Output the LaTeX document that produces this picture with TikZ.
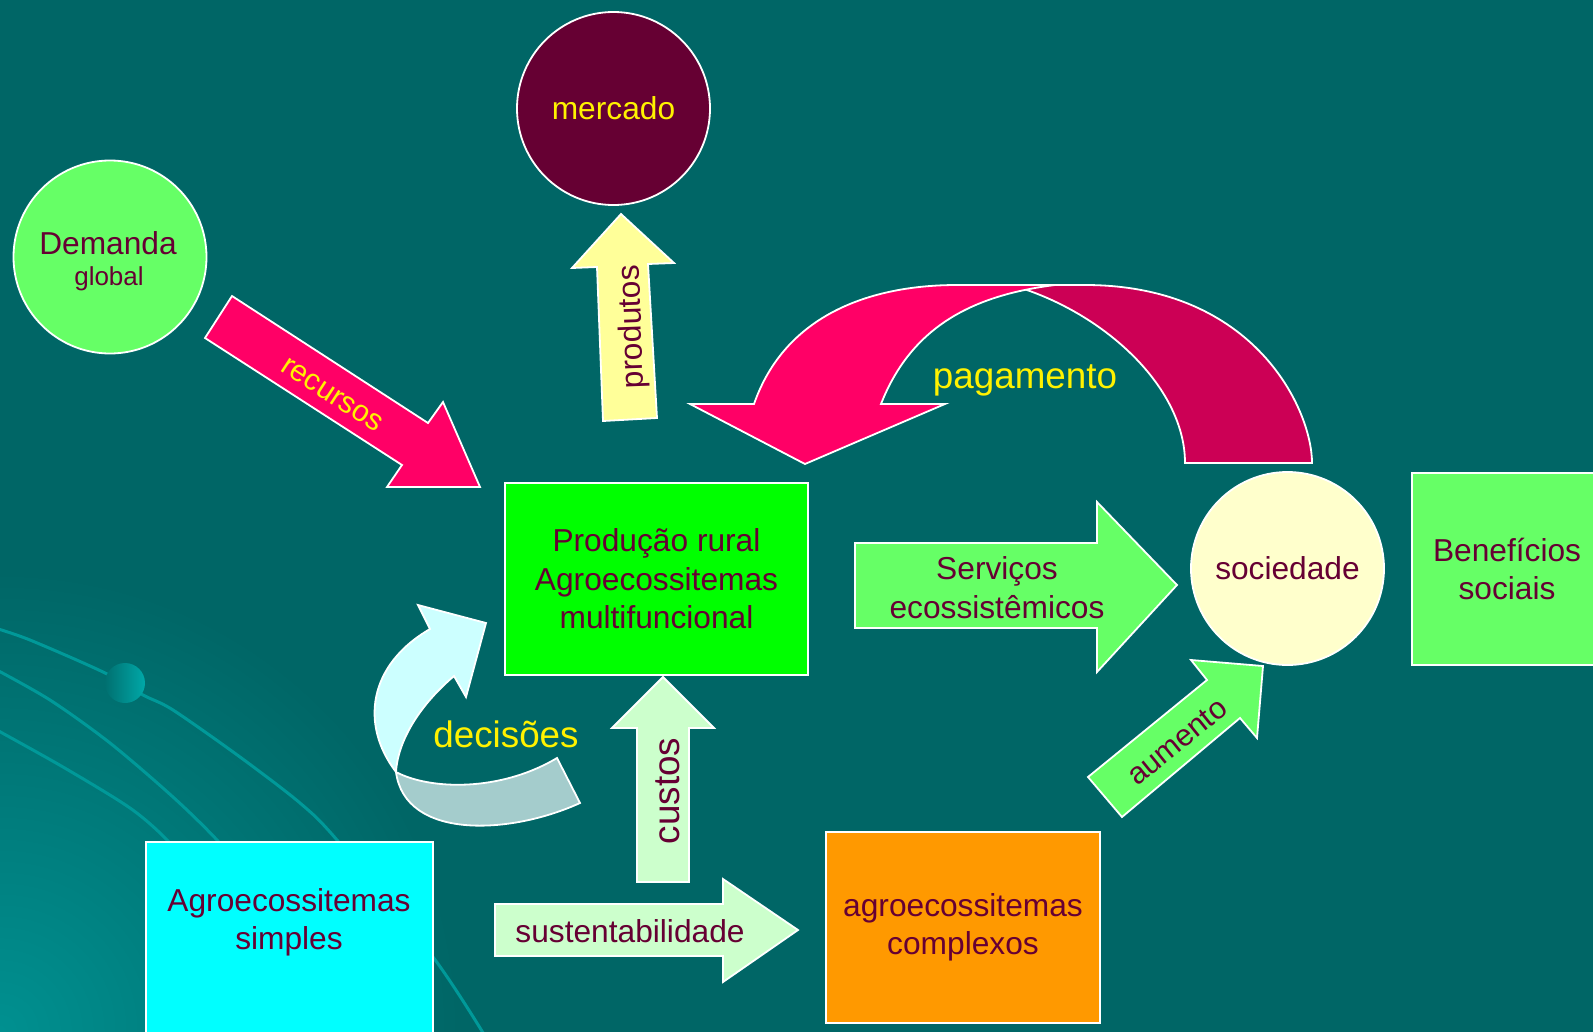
\documentclass[tikz,border=0pt]{standalone}
\usepackage{fontspec}
\setmainfont{Liberation Sans}
\definecolor{bg}{HTML}{006666}
\definecolor{glow}{HTML}{009090}
\definecolor{deco}{HTML}{009999}
\definecolor{balll}{HTML}{007070}
\definecolor{ballr}{HTML}{00A8A8}
\definecolor{txt}{HTML}{660033}
\definecolor{lgreen}{HTML}{66FF66}
\definecolor{pgreen}{HTML}{00FF00}
\definecolor{paleg}{HTML}{CCFFCC}
\definecolor{pyell}{HTML}{FFFF99}
\definecolor{cream}{HTML}{FFFFCC}
\definecolor{pinkA}{HTML}{FF0066}
\definecolor{crim}{HTML}{CC0055}
\definecolor{paleC}{HTML}{CCFFFF}
\definecolor{grayC}{HTML}{A4CCCC}
\definecolor{orng}{HTML}{FF9900}
\definecolor{maroon}{HTML}{660033}
\definecolor{aqua}{HTML}{00FFFF}
\begin{document}
\begin{tikzpicture}[x=1pt,y=-1pt,
  every node/.style={inner sep=0pt, outer sep=0pt, text=txt, font=\fontsize{31.7}{38.5}\selectfont},
  frame/.style={draw=white, line width=1.8pt},
  boxn/.style={frame, rectangle, align=center},
  circ/.style={frame, circle, minimum size=193pt},
  block/.style={frame, line join=miter},
  yl/.style={text=yellow},
  big/.style={font=\fontsize{36.8}{44}\selectfont},
  decoline/.style={draw=deco, line width=3pt},
]
\useasboundingbox (0,0) rectangle (1593,1031);
\fill[bg] (-2,-2) rectangle (1595,1033);
\begin{scope}
  \clip (0,0) rectangle (1593,1031);
  \shade[inner color=glow, outer color=bg] (0,1031) circle (460pt);
  % decorative lines
  \draw[decoline] plot[smooth, tension=0.5] coordinates {(-5,628) (30,640) (103,672) (143,695) (173,710) (240,757) (300,803) (337,840) (433,957) (485,1036)};
  \draw[decoline] plot[smooth, tension=0.5] coordinates {(-5,669) (50,700) (110,743) (173,797) (217,840) (260,890)};
  \draw[decoline] plot[smooth, tension=0.5] coordinates {(-5,729) (63,767) (130,808) (167,840) (200,880)};
  \shade[left color=balll, right color=ballr] (125,683) circle (20pt);
\end{scope}

% circles
\node[circ, fill=lgreen] (dem) at (110,257) {};
\node[anchor=base] (demT) at (108,254) {Demanda};
\node[anchor=base, font=\fontsize{26}{31}\selectfont] (demG) at (109,285) {global};
\node[circ, fill=maroon, text=yellow] (merc) at (613.5,108.5) {mercado};
\node[circ, fill=cream] (soc) at (1287.5,568.5) {sociedade};

% boxes
\node[boxn, fill=pgreen, minimum width=303pt, minimum height=192pt] (prod) at (656.5,579) {Produção rural\\Agroecossitemas\\multifuncional};
\node[boxn, fill=lgreen, minimum width=190pt, minimum height=192pt] (ben) at (1507,569) {Benefícios\\sociais};
\node[boxn, fill=orng, minimum width=274pt, minimum height=191pt] (comp) at (963,927.5) {agroecossitemas\\complexos};
\node[boxn, fill=aqua, minimum width=287pt, minimum height=210pt] (simp) at (289.5,947) {};
\node[align=center] (simpT) at (289,922.5) {Agroecossitemas\\simples};

% block arrows
\draw[block, fill=pinkA] (232,296) -- (428,423) -- (443,402) -- (480,487) -- (387,487) -- (402,465) -- (205,338) -- cycle;
\draw[block, fill=pyell] (621,214) -- (674,263) -- (648,264) -- (657,418) -- (603,421) -- (597,267) -- (572,268) -- cycle;
\draw[block, fill=paleg] (663,677) -- (714,728) -- (689,728) -- (689,882) -- (637,882) -- (637,728) -- (612,728) -- cycle;
\draw[block, fill=paleg] (495,904) -- (723,904) -- (723,879) -- (798,930) -- (723,982) -- (723,956) -- (495,956) -- cycle;
\draw[block, fill=lgreen] (855,543) -- (1097,543) -- (1097,502) -- (1177,585) -- (1097,672) -- (1097,628) -- (855,628) -- cycle;
\draw[block, fill=lgreen] (1088,777) -- (1207,680) -- (1191,660) -- (1263,666) -- (1257,738) -- (1240,718) -- (1122,817) -- cycle;

% pagamento curved arrow
\draw[block, fill=crim] (1312,463) .. controls (1312,410) and (1255,285) .. (1085,285) -- (995,285) -- (1024,289) .. controls (1110,318) and (1185,390) .. (1185,463) -- cycle;
\draw[block, fill=pinkA] (754,404) .. controls (785,315) and (870,285) .. (957,285) -- (1055,285) .. controls (975,295) and (912,325) .. (881,404) -- (945,404) -- (805,464) -- (690,404) -- cycle;

% decisoes curved arrow
\draw[block, fill=paleC] (396,772) .. controls (360,725) and (368,665) .. (430,629) -- (418,605) -- (486,623) -- (466,697) -- (454,676) .. controls (420,705) and (398,740) .. (396,772) -- cycle;
\draw[block, fill=grayC] (396,772) .. controls (430,790) and (500,792) .. (557,758) -- (580,803) .. controls (510,835) and (405,840) .. (396,772) -- cycle;

% labels
\node[yl, font=\fontsize{30}{36}\selectfont, rotate=-33] (recT) at (332,395) {recursos};
\node[rotate=92] (prodT) at (633,327) {produtos};
\node[big, rotate=90] (custT) at (668,791) {custos};
\node[anchor=base] (sustT) at (630,942) {sustentabilidade};
\node[align=center] (servT) at (997,587.5) {Serviços\\ecossistêmicos};
\node[rotate=39, font=\fontsize{30.5}{36}\selectfont] (aumT) at (1177,742) {aumento};
\node[yl, big, anchor=base] (pagT) at (1025,388) {pagamento};
\node[yl, big, anchor=base] (decT) at (506,747) {decisões};
\end{tikzpicture}
\end{document}
